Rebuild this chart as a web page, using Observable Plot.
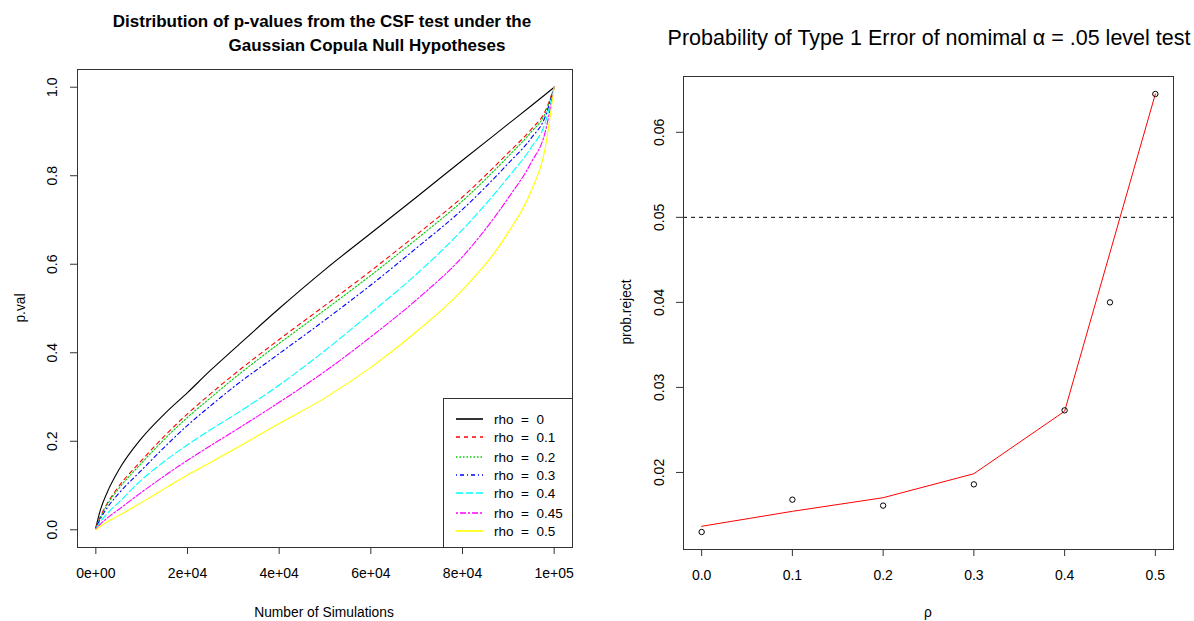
<!DOCTYPE html>
<html><head><meta charset="utf-8">
<script src="https://cdn.jsdelivr.net/npm/d3@7"></script>
<script src="https://cdn.jsdelivr.net/npm/@observablehq/plot@0.6"></script>
<style>
body{margin:0;background:#fff;font-family:"Liberation Sans",Arial,sans-serif;}
#root{position:relative;width:1194px;height:621px;overflow:hidden;background:#fff}
#root > svg{position:absolute;top:0}
</style></head><body><div id="root"></div>
<script>
// ---------- Left panel data: sorted p-values per rho ----------
const rhoLabels = ["0", "0.1", "0.2", "0.3", "0.4", "0.45", "0.5"];
const simsGrid = [0, 1000, 2500, 5000, 10000, 15000, 20000, 25000, 30000, 40000, 50000, 60000, 70000, 80000, 90000, 95000, 98000, 100000];

const pvalRho0   = [0.005, 0.045, 0.085, 0.135, 0.207, 0.262, 0.310, 0.360, 0.407, 0.500, 0.588, 0.670, 0.752, 0.835, 0.917, 0.958, 0.983, 1.000];
const pvalRho01  = [0.005, 0.030, 0.060, 0.098, 0.157, 0.212, 0.262, 0.307, 0.350, 0.430, 0.507, 0.585, 0.667, 0.752, 0.852, 0.905, 0.945, 1.000];
const pvalRho02  = [0.005, 0.028, 0.057, 0.093, 0.151, 0.205, 0.254, 0.298, 0.341, 0.421, 0.497, 0.575, 0.657, 0.743, 0.844, 0.899, 0.940, 1.000];
const pvalRho03  = [0.004, 0.025, 0.050, 0.082, 0.135, 0.187, 0.236, 0.280, 0.322, 0.398, 0.474, 0.553, 0.637, 0.724, 0.828, 0.885, 0.932, 1.000];
const pvalRho04  = [0.003, 0.018, 0.037, 0.062, 0.113, 0.155, 0.192, 0.226, 0.258, 0.327, 0.405, 0.490, 0.578, 0.678, 0.797, 0.864, 0.918, 1.000];
const pvalRho045 = [0.002, 0.013, 0.027, 0.046, 0.085, 0.122, 0.157, 0.190, 0.222, 0.288, 0.358, 0.436, 0.520, 0.617, 0.750, 0.830, 0.897, 1.000];
const pvalRho05  = [0.000, 0.008, 0.018, 0.032, 0.062, 0.093, 0.124, 0.152, 0.181, 0.240, 0.298, 0.367, 0.448, 0.542, 0.672, 0.766, 0.860, 1.000];

const xTicks = [0, 20000, 40000, 60000, 80000, 100000];
const xTickLabels = ["0e+00", "2e+04", "4e+04", "6e+04", "8e+04", "1e+05"];
const yTicks = [0, 0.2, 0.4, 0.6, 0.8, 1.0];

// ---------- Right panel data ----------
const rhoValues = [0, 0.1, 0.2, 0.3, 0.4, 0.45, 0.5];
const probReject = [0.0130, 0.0168, 0.0161, 0.0186, 0.0273, 0.0400, 0.0645];
const fitRho = [0, 0.1, 0.2, 0.3, 0.4, 0.5];
const fitProb = [0.01367, 0.01543, 0.01703, 0.01985, 0.0272, 0.0645];
const rhoTicks = [0, 0.1, 0.2, 0.3, 0.4, 0.5];
const probTicks = [0.02, 0.03, 0.04, 0.05, 0.06];
const alphaLevel = 0.05;

// ---------- Styles (R base palette / line types) ----------
const seriesColors = ["#000000", "#FF0000", "#00CD00", "#0000FF", "#00FFFF", "#FF00FF", "#FFFF00"];
const seriesDash = [null, "4,4", "1.5,2", "1,3,4,3", "7,3", "2,2,6,2", null];

const pvalList = [pvalRho0, pvalRho01, pvalRho02, pvalRho03, pvalRho04, pvalRho045, pvalRho05];
const curves = rhoLabels.map((rho, i) => simsGrid.map((s, j) => ({rho, sims: s, pval: pvalList[i][j]})));

const font = "'Liberation Sans', Arial, sans-serif";
const root = document.getElementById("root");

const left = Plot.plot({
  width: 600, height: 621,
  marginLeft: 77, marginRight: 28, marginTop: 69, marginBottom: 74,
  style: {fontFamily: font, fontSize: "14px", color: "#000", background: "transparent", overflow: "visible"},
  x: {domain: [-4000, 104000]},
  y: {domain: [-0.04, 1.04]},
  marks: [
    Plot.axisX(xTicks, {tickSize: 7, tickPadding: 14, fontSize: 14, tickFormat: d => xTickLabels[xTicks.indexOf(d)], label: null, stroke: "#333"}),
    Plot.axisY(yTicks, {tickSize: 7, tickPadding: 14, fontSize: 14, tickRotate: -90, tickFormat: d3.format(".1f"), label: null, stroke: "#333"}),
    ...curves.map((rows, i) => Plot.line(rows, {
      x: "sims", y: "pval", stroke: seriesColors[i], strokeWidth: 1.1,
      strokeDasharray: seriesDash[i] || undefined, curve: "monotone-x"
    })),
    Plot.frame({stroke: "#333"})
  ]
});
left.style.left = "0px";
root.appendChild(left);

const pointRows = rhoValues.map((r, i) => ({rho: r, prob: probReject[i]}));
const fitRows = fitRho.map((r, i) => ({rho: r, prob: fitProb[i]}));

const right = Plot.plot({
  width: 594, height: 621,
  marginLeft: 83, marginRight: 21, marginTop: 76, marginBottom: 72,
  style: {fontFamily: font, fontSize: "14px", color: "#000", background: "transparent", overflow: "visible"},
  x: {domain: [-0.02, 0.52]},
  y: {domain: [0.01094, 0.06656]},
  marks: [
    Plot.axisX(rhoTicks, {tickSize: 7, tickPadding: 14, fontSize: 14, tickFormat: d3.format(".1f"), label: null, stroke: "#333"}),
    Plot.axisY(probTicks, {tickSize: 7, tickPadding: 13, fontSize: 14, tickRotate: -90, tickFormat: d3.format(".2f"), label: null, stroke: "#333"}),
    Plot.ruleY([alphaLevel], {stroke: "#000", strokeWidth: 1, strokeDasharray: "4,4"}),
    Plot.line(fitRows, {x: "rho", y: "prob", stroke: "#FF0000", strokeWidth: 1}),
    Plot.dot(pointRows, {x: "rho", y: "prob", r: 2.7, stroke: "#000", strokeWidth: 1, fill: "none"}),
    Plot.frame({stroke: "#333"})
  ]
});
right.style.left = "600px";
root.appendChild(right);

// ---------- Titles, axis titles, legend ----------
const ov = d3.select(root).append("svg")
  .attr("width", 1194).attr("height", 621)
  .style("position", "absolute").style("left", "0px").style("top", "0px")
  .style("pointer-events", "none")
  .attr("font-family", font);

ov.append("text").attr("x", 322).attr("y", 27).attr("text-anchor", "middle")
  .attr("font-size", 17).attr("font-weight", "bold")
  .text("Distribution of p-values from the CSF test under the");
ov.append("text").attr("x", 367).attr("y", 51).attr("text-anchor", "middle")
  .attr("font-size", 17).attr("font-weight", "bold")
  .text("Gaussian Copula Null Hypotheses");

ov.append("text").attr("x", 929).attr("y", 45).attr("text-anchor", "middle")
  .attr("font-size", 21.5)
  .text("Probability of Type 1 Error of nomimal α = .05 level test");

ov.append("text").attr("x", 324).attr("y", 617).attr("text-anchor", "middle")
  .attr("font-size", 13.8).text("Number of Simulations");
ov.append("text").attr("transform", "translate(25,308) rotate(-90)").attr("text-anchor", "middle")
  .attr("font-size", 13.8).text("p.val");

ov.append("text").attr("x", 928).attr("y", 617).attr("text-anchor", "middle")
  .attr("font-size", 13.8).text("ρ");
ov.append("text").attr("transform", "translate(631,312) rotate(-90)").attr("text-anchor", "middle")
  .attr("font-size", 13.8).text("prob.reject");

// legend
const lg = ov.append("g");
lg.append("rect").attr("x", 443.5).attr("y", 398.5).attr("width", 129).attr("height", 149)
  .attr("fill", "#fff").attr("stroke", "#333");
rhoLabels.forEach((rho, i) => {
  const y = 2 * Math.round((418 + i * 18.7) / 2) + 1;
  lg.append("line").attr("x1", 456).attr("x2", 483).attr("y1", y).attr("y2", y)
    .attr("stroke", seriesColors[i]).attr("stroke-width", 1.6)
    .attr("stroke-dasharray", seriesDash[i]);
  lg.append("text").attr("x", 494).attr("y", y + 4.5).attr("font-size", 13.5)
    .attr("xml:space", "preserve").style("white-space", "pre")
    .text("rho  =  " + rho);
});
</script></body></html>
